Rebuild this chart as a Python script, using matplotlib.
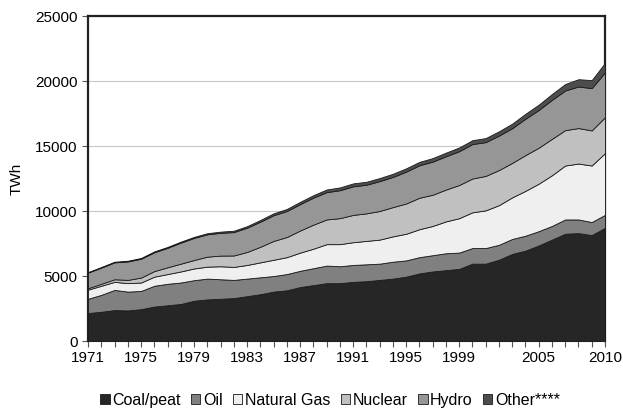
import matplotlib
matplotlib.use("Agg")
import matplotlib.pyplot as plt
import numpy as np

years = list(range(1971, 2011))

coal = [2150, 2250, 2380, 2350, 2450, 2650, 2750, 2850, 3100, 3200,
        3250, 3300, 3450, 3600, 3800, 3900, 4150, 4300, 4450, 4450,
        4550, 4600, 4700, 4800, 4950, 5200, 5350, 5450, 5550, 5950,
        5950, 6250, 6700, 6950, 7350, 7800, 8250, 8300, 8150, 8700]
oil = [1100, 1300, 1550, 1450, 1400, 1600, 1650, 1650, 1580, 1600,
       1500, 1400, 1350, 1300, 1200, 1250, 1250, 1300, 1350, 1300,
       1300, 1300, 1250, 1300, 1250, 1250, 1250, 1300, 1250, 1200,
       1200, 1150, 1150, 1150, 1100, 1050, 1100, 1050, 1000, 1000]
gas = [700, 700, 620, 650, 650, 700, 750, 850, 900, 920,
       1000, 1000, 1050, 1150, 1250, 1300, 1400, 1500, 1650, 1700,
       1750, 1800, 1850, 1950, 2050, 2150, 2250, 2450, 2650, 2750,
       2900, 3050, 3200, 3450, 3650, 3900, 4150, 4300, 4350, 4750]
nuclear = [110, 150, 200, 250, 380, 430, 520, 600, 650, 770,
           820, 880, 1000, 1200, 1450, 1550, 1700, 1850, 1900, 2000,
           2100, 2120, 2200, 2250, 2330, 2420, 2400, 2450, 2550, 2600,
           2650, 2700, 2650, 2750, 2770, 2800, 2720, 2730, 2700, 2760]
hydro = [1200, 1250, 1300, 1420, 1450, 1450, 1500, 1620, 1700, 1720,
         1750, 1800, 1870, 1930, 1980, 2000, 2030, 2080, 2100, 2150,
         2200, 2200, 2300, 2320, 2450, 2500, 2550, 2560, 2600, 2650,
         2600, 2650, 2670, 2800, 2900, 3000, 3050, 3200, 3250, 3450]
other = [40, 45, 50, 55, 60, 65, 70, 75, 80, 85,
         95, 105, 115, 130, 145, 160, 175, 190, 205, 215,
         225, 230, 235, 245, 255, 260, 270, 280, 290, 300,
         310, 330, 350, 380, 410, 450, 500, 560, 620, 730]

labels = ["Coal/peat", "Oil", "Natural Gas", "Nuclear", "Hydro", "Other****"]
colours = ["#262626", "#808080", "#efefef", "#c0c0c0", "#969696", "#4d4d4d"]
tick_years = [1971, 1975, 1979, 1983, 1987, 1991, 1995, 1999, 2005, 2010]

plt.rcParams["font.family"] = ["Liberation Sans", "DejaVu Sans"]

fig = plt.figure(figsize=(6.23, 4.15), dpi=100)
ax = fig.add_axes([0.1413, 0.1783, 0.8297, 0.7831])

series = [coal, oil, gas, nuclear, hydro, other]
ax.stackplot(years, *series, colors=colours, labels=labels,
             edgecolor="#1a1a1a", linewidth=0.6, zorder=3)

ax.set_xlim(1971, 2010)
ax.set_ylim(0, 25000)
ax.set_yticks(range(0, 25001, 5000))
ax.set_xticks(tick_years)
ax.set_xticks(years, minor=True)
ax.grid(axis="y", color="#c8c8c8", linewidth=0.8, zorder=0)
ax.set_ylabel("TWh", fontsize=11, labelpad=8)

for side in ["left", "top", "right"]:
    ax.spines[side].set_linewidth(1.6)
    ax.spines[side].set_color("#222222")
ax.spines["bottom"].set_linewidth(0.8)
ax.spines["bottom"].set_color("#555555")
ax.tick_params(axis="y", length=4, width=0.8, color="#555555", labelsize=11)
ax.tick_params(axis="x", which="both", length=4, width=0.8, color="#555555",
               labelsize=11, direction="out")

ax.legend(loc="upper center", bbox_to_anchor=(0.468, -0.115), ncol=6, frameon=False,
          handlelength=0.6, handleheight=0.6, handletextpad=0.15, columnspacing=0.65,
          fontsize=11.5)

fig.savefig("out.png", dpi=100)
